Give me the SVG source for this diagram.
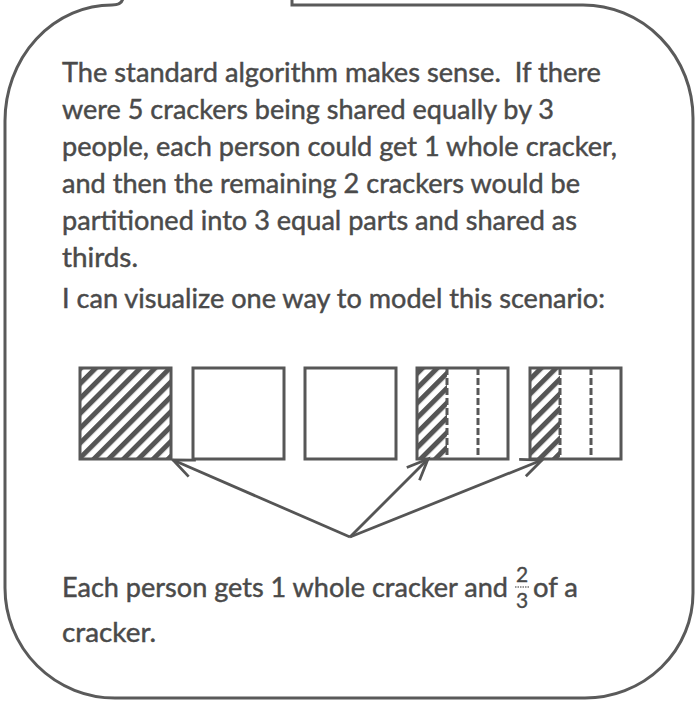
<svg xmlns="http://www.w3.org/2000/svg" width="698" height="704" viewBox="0 0 698 704">
<style>
 .t { font-family: Lato, "Open Sans", "Liberation Sans", sans-serif; font-size: 27px; fill: #4a4a4a; stroke: #4a4a4a; stroke-width: 0.45; }
 .f { font-family: Lato, "Open Sans", "Liberation Sans", sans-serif; font-size: 21px; fill: #4a4a4a; stroke: #4a4a4a; stroke-width: 0.35; text-anchor: middle; }
 .box { fill: none; stroke: #575757; stroke-width: 3; }
 .dash { stroke: #575757; stroke-width: 3; stroke-dasharray: 7 3; }
 .conn { stroke: #555; stroke-width: 2.8; fill: none; marker-end: url(#arr); }
 .bubble { fill: none; stroke: #5a5a5a; stroke-width: 3; }
</style>
<defs>
 <pattern id="hatch" patternUnits="userSpaceOnUse" width="10.5" height="10" patternTransform="rotate(45)">
  <line x1="2.5" y1="-1" x2="2.5" y2="11" stroke="#555" stroke-width="5"/>
 </pattern>
 <marker id="arr" markerUnits="userSpaceOnUse" markerWidth="30" markerHeight="30" viewBox="-25 -15 30 30" refX="0" refY="0" orient="auto">
  <path d="M -21 -9 L 0 0 L -21 9" fill="none" stroke="#555" stroke-width="2.8"/>
 </marker>
</defs>
<rect width="698" height="704" fill="#ffffff"/>
<g id="bubble">
 <path class="bubble" d="M 123 -2 Q 122 5 112 5 A 107 116 0 0 0 5 121 L 5 588 A 110 110 0 0 0 115 698 L 585 698 A 108 105 0 0 0 693 593 L 693 118 A 110 113 0 0 0 583 5 L 292 5 L 292 -2"/>
</g>
<g id="text">
 <text class="t" x="62" y="82" textLength="539" lengthAdjust="spacingAndGlyphs" xml:space="preserve">The standard algorithm makes sense.  If there</text>
 <text class="t" x="62" y="119" textLength="492" lengthAdjust="spacingAndGlyphs">were 5 crackers being shared equally by 3</text>
 <text class="t" x="62" y="156" textLength="555" lengthAdjust="spacingAndGlyphs">people, each person could get 1 whole cracker,</text>
 <text class="t" x="62" y="193" textLength="518" lengthAdjust="spacingAndGlyphs">and then the remaining 2 crackers would be</text>
 <text class="t" x="62" y="230" textLength="515" lengthAdjust="spacingAndGlyphs">partitioned into 3 equal parts and shared as</text>
 <text class="t" x="62" y="267" textLength="76" lengthAdjust="spacingAndGlyphs">thirds.</text>
 <text class="t" x="62" y="308" textLength="543" lengthAdjust="spacingAndGlyphs">I can visualize one way to model this scenario:</text>
 <text class="t" x="62" y="597" textLength="446" lengthAdjust="spacingAndGlyphs">Each person gets 1 whole cracker and</text>
 <text class="f" x="522" y="582">2</text>
 <line x1="515" y1="587" x2="529" y2="587" stroke="#777" stroke-width="1.3" stroke-dasharray="1.5 1"/>
 <text class="f" x="522" y="608">3</text>
 <text class="t" x="533" y="597" textLength="45" lengthAdjust="spacingAndGlyphs">of a</text>
 <text class="t" x="62" y="642" textLength="94" lengthAdjust="spacingAndGlyphs">cracker.</text>
</g>
<g id="cracker1">
 <rect x="80" y="368" width="91" height="91" fill="url(#hatch)"/>
 <rect class="box" x="80" y="368" width="91" height="91"/>
</g>
<g id="cracker2">
 <rect class="box" x="193" y="368" width="91" height="91"/>
</g>
<g id="cracker3">
 <rect class="box" x="305" y="368" width="91" height="91"/>
</g>
<g id="cracker4">
 <rect x="417" y="368" width="30" height="91" fill="url(#hatch)"/>
 <line class="dash" x1="447" y1="368" x2="447" y2="459"/>
 <line class="dash" x1="478" y1="368" x2="478" y2="459"/>
 <rect class="box" x="417" y="368" width="91" height="91"/>
</g>
<g id="cracker5">
 <rect x="530" y="368" width="30" height="91" fill="url(#hatch)"/>
 <line class="dash" x1="560" y1="368" x2="560" y2="459"/>
 <line class="dash" x1="591" y1="368" x2="591" y2="459"/>
 <rect class="box" x="530" y="368" width="91" height="91"/>
</g>
<g id="connectors">
 <line class="conn" x1="350" y1="537" x2="173" y2="460"/>
 <line class="conn" x1="350" y1="537" x2="428" y2="459"/>
 <line class="conn" x1="350" y1="537" x2="542" y2="460"/>
</g>
</svg>
